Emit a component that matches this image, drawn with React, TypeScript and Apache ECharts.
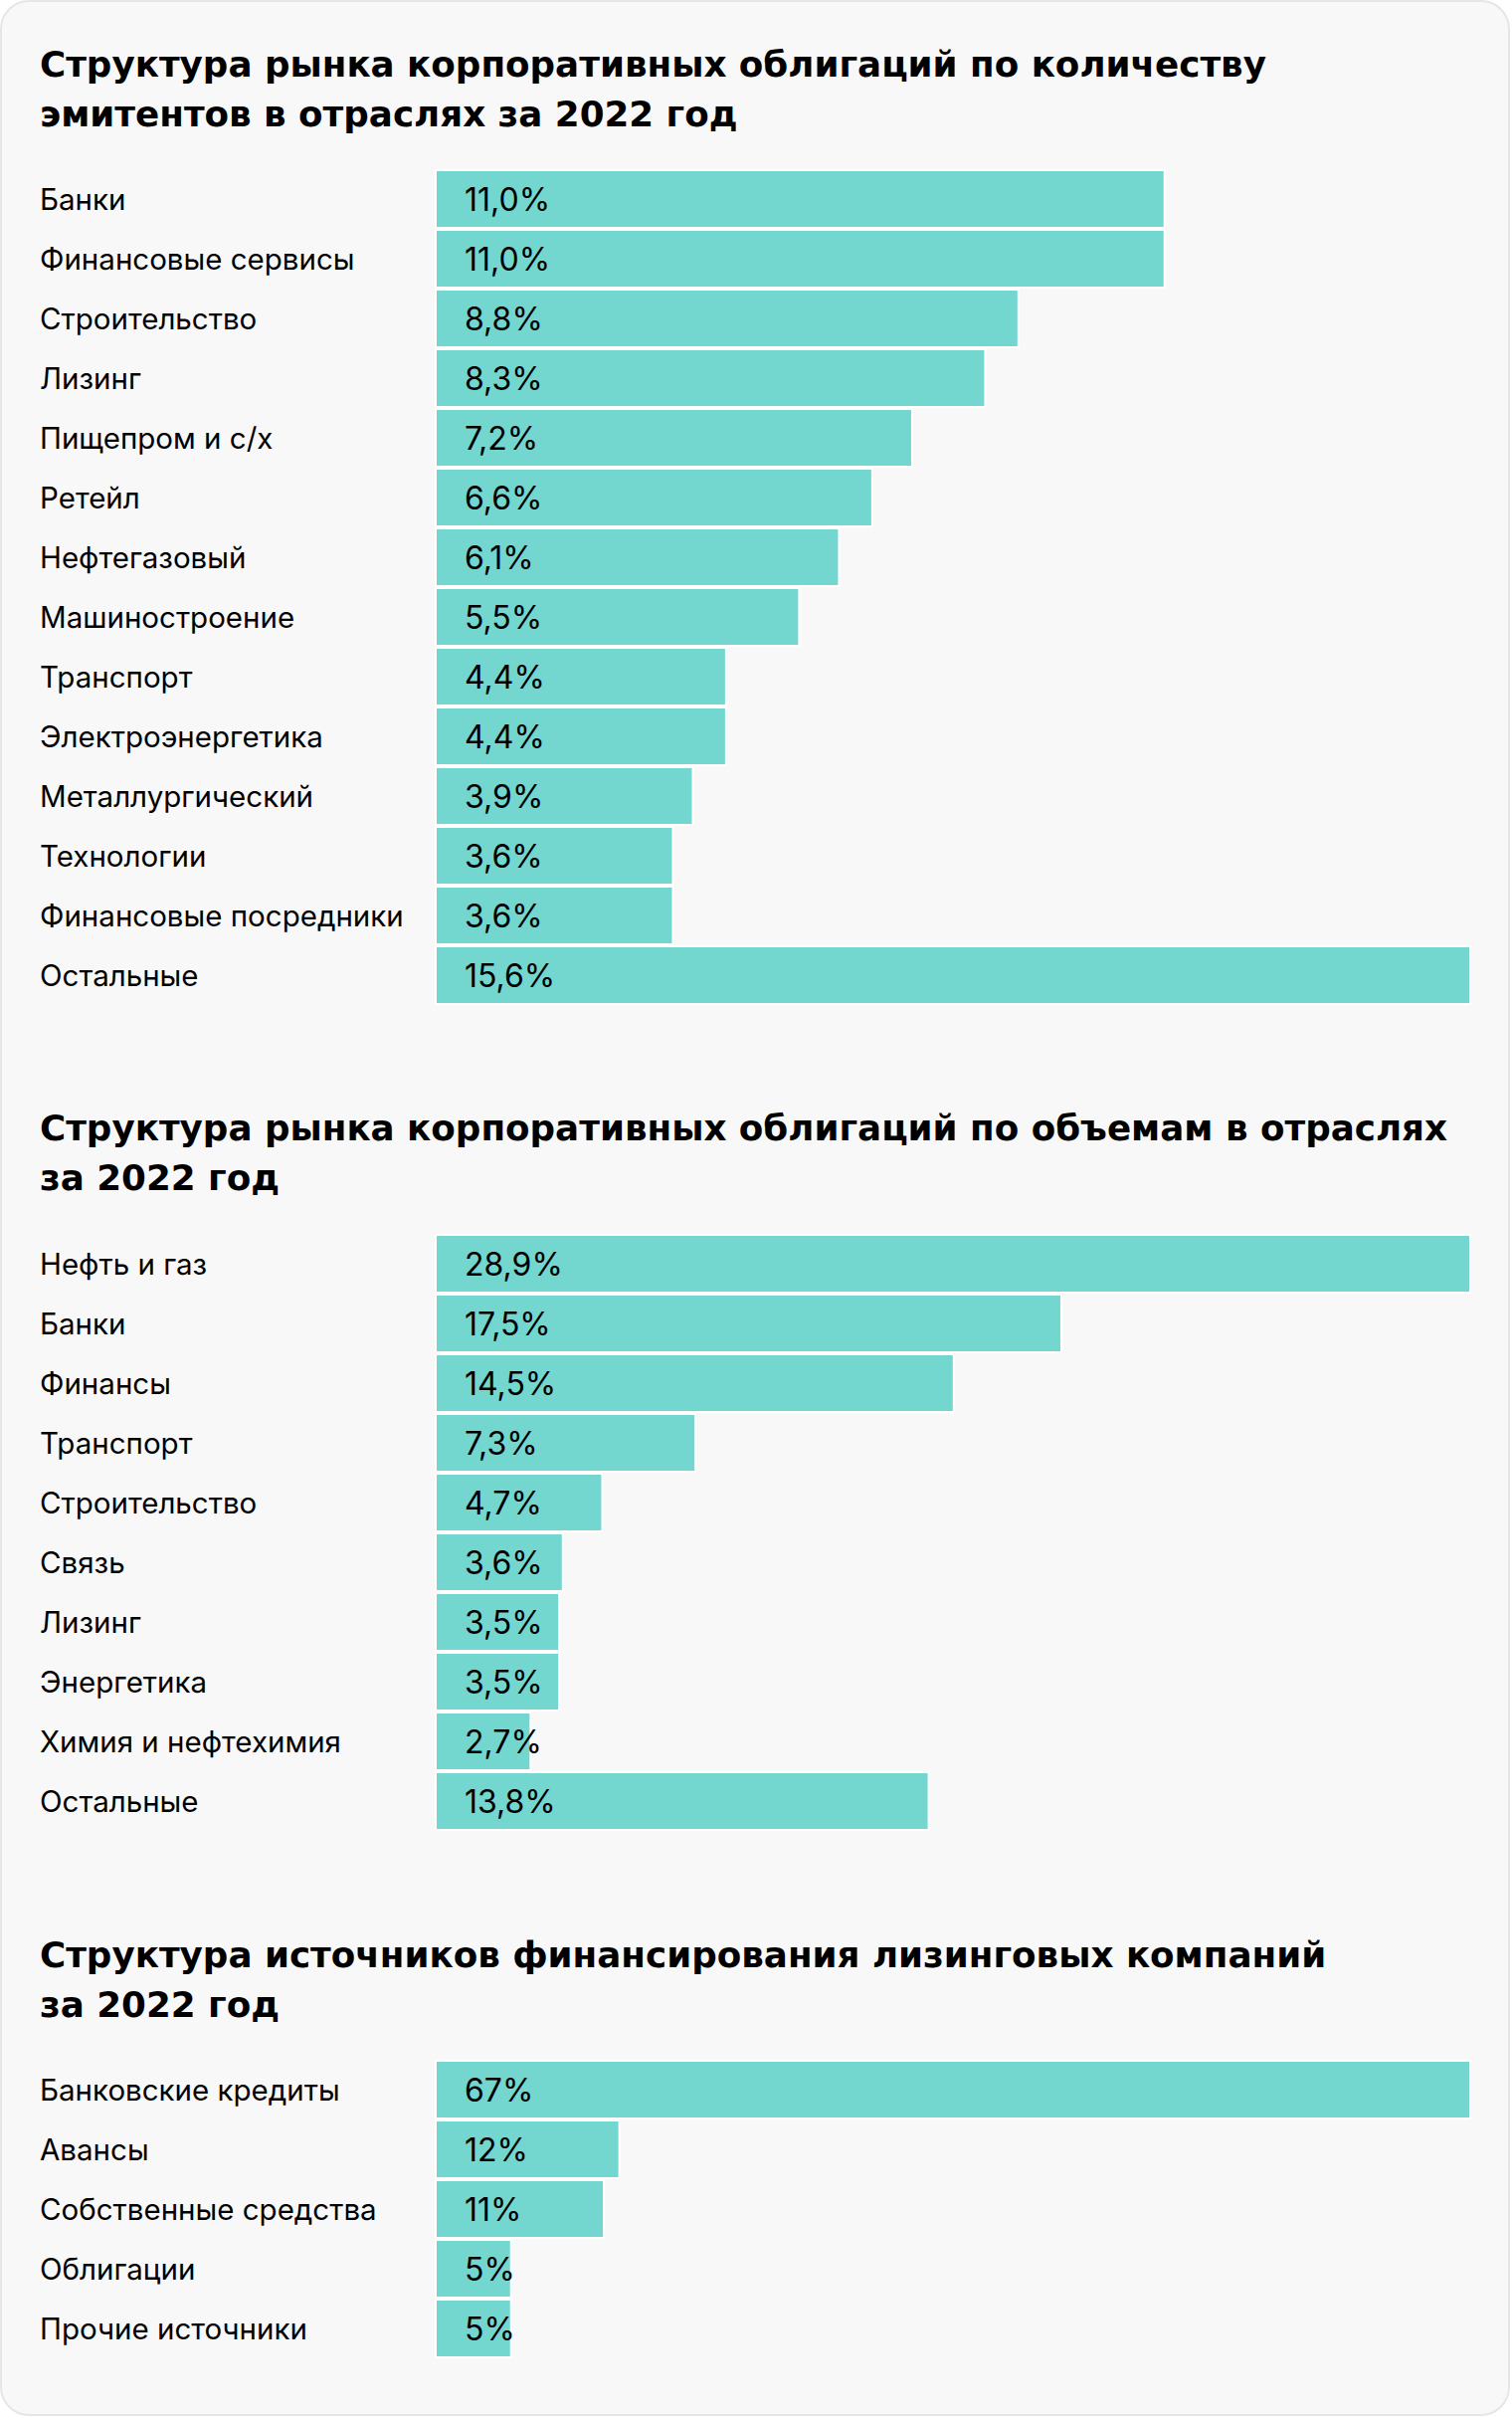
import React, { useEffect, useRef } from "react";
import * as echarts from "echarts";

const titles1 = ["Структура рынка корпоративных облигаций по количеству", "эмитентов в отраслях за 2022 год"];
const titles2 = ["Структура рынка корпоративных облигаций по объемам в отраслях", "за 2022 год"];
const titles3 = ["Структура источников финансирования лизинговых компаний", "за 2022 год"];

const cats1 = ["Банки", "Финансовые сервисы", "Строительство", "Лизинг", "Пищепром и с/х", "Ретейл", "Нефтегазовый", "Машиностроение", "Транспорт", "Электроэнергетика", "Металлургический", "Технологии", "Финансовые посредники", "Остальные"];
const vals1 = [11.0, 11.0, 8.8, 8.3, 7.2, 6.6, 6.1, 5.5, 4.4, 4.4, 3.9, 3.6, 3.6, 15.6];

const cats2 = ["Нефть и газ", "Банки", "Финансы", "Транспорт", "Строительство", "Связь", "Лизинг", "Энергетика", "Химия и нефтехимия", "Остальные"];
const vals2 = [28.9, 17.5, 14.5, 7.3, 4.7, 3.6, 3.5, 3.5, 2.7, 13.8];

const cats3 = ["Банковские кредиты", "Авансы", "Собственные средства", "Облигации", "Прочие источники"];
const vals3 = [67, 12, 11, 5, 5];

const FONT = "Inter";
const TITLE_FONT = "bold 35.7px 'DejaVu Sans'";
const BAR = "#73d6cf";
const ROW = 60;
const LEFT = 437;
const WIDTH = 1042;

export default function App() {
  const ref = useRef<HTMLDivElement>(null);
  useEffect(() => {
    if (!ref.current) return;
    const chart = echarts.init(ref.current, null, { renderer: "svg" });
    const tops = [170, 1240, 2070];
    const cats = [cats1, cats2, cats3];
    const vals = [vals1, vals2, vals3];
    const decs = [1, 1, 0];
    const titleCenters = [64, 1133.3, 1964];
    const titleTexts = [titles1, titles2, titles3];

    const grids = tops.map((t, i) => ({
      left: LEFT,
      top: t,
      width: WIDTH,
      height: cats[i].length * ROW,
    }));
    const xAxes = vals.map((v, i) => ({
      type: "value",
      gridIndex: i,
      min: 0,
      max: Math.max(...v),
      show: false,
    }));
    const yAxes = cats.map((c, i) => ({
      type: "category",
      gridIndex: i,
      data: c,
      inverse: true,
      axisLine: { show: false },
      axisTick: { show: false },
      splitLine: { show: false },
      axisLabel: {
        align: "left",
        margin: LEFT - 40,
        color: "#000",
        fontFamily: FONT,
        fontSize: 29.5,
      },
    }));
    const series = vals.map((v, i) => ({
      type: "bar",
      xAxisIndex: i,
      yAxisIndex: i,
      data: v,
      barCategoryGap: 0,
      barWidth: "100%",
      itemStyle: { color: BAR, borderColor: "#ffffff", borderWidth: 2 },
      label: {
        show: true,
        position: [30, "50%"],
        align: "left",
        verticalAlign: "middle",
        color: "#000",
        fontFamily: FONT,
        fontSize: 32,
        formatter: (p: any) => p.value.toFixed(decs[i]).replace(".", ",") + "%",
      },
    }));
    const graphics: any[] = [
      {
        type: "rect",
        z: -100,
        shape: { x: 1, y: 1, width: 1516, height: 2426, r: 28 },
        style: { fill: "#f8f8f8", stroke: "#e6e6e6", lineWidth: 2 },
      },
    ];
    titleTexts.forEach((lines, i) => {
      lines.forEach((ln, j) => {
        graphics.push({
          type: "text",
          z: 100,
          x: 40,
          y: titleCenters[i] + j * 50,
          style: {
            text: ln,
            fill: "#000",
            font: TITLE_FONT,
            textAlign: "left",
            textVerticalAlign: "middle",
          },
        });
      });
    });

    chart.setOption({
      animation: false,
      backgroundColor: "#ffffff",
      grid: grids,
      xAxis: xAxes,
      yAxis: yAxes,
      series,
      graphic: { elements: graphics },
    });
    return () => chart.dispose();
  }, []);
  return (
    <div
      ref={ref}
      style={{ position: "absolute", left: 0, top: 0, width: 1520, height: 2430 }}
    />
  );
}
